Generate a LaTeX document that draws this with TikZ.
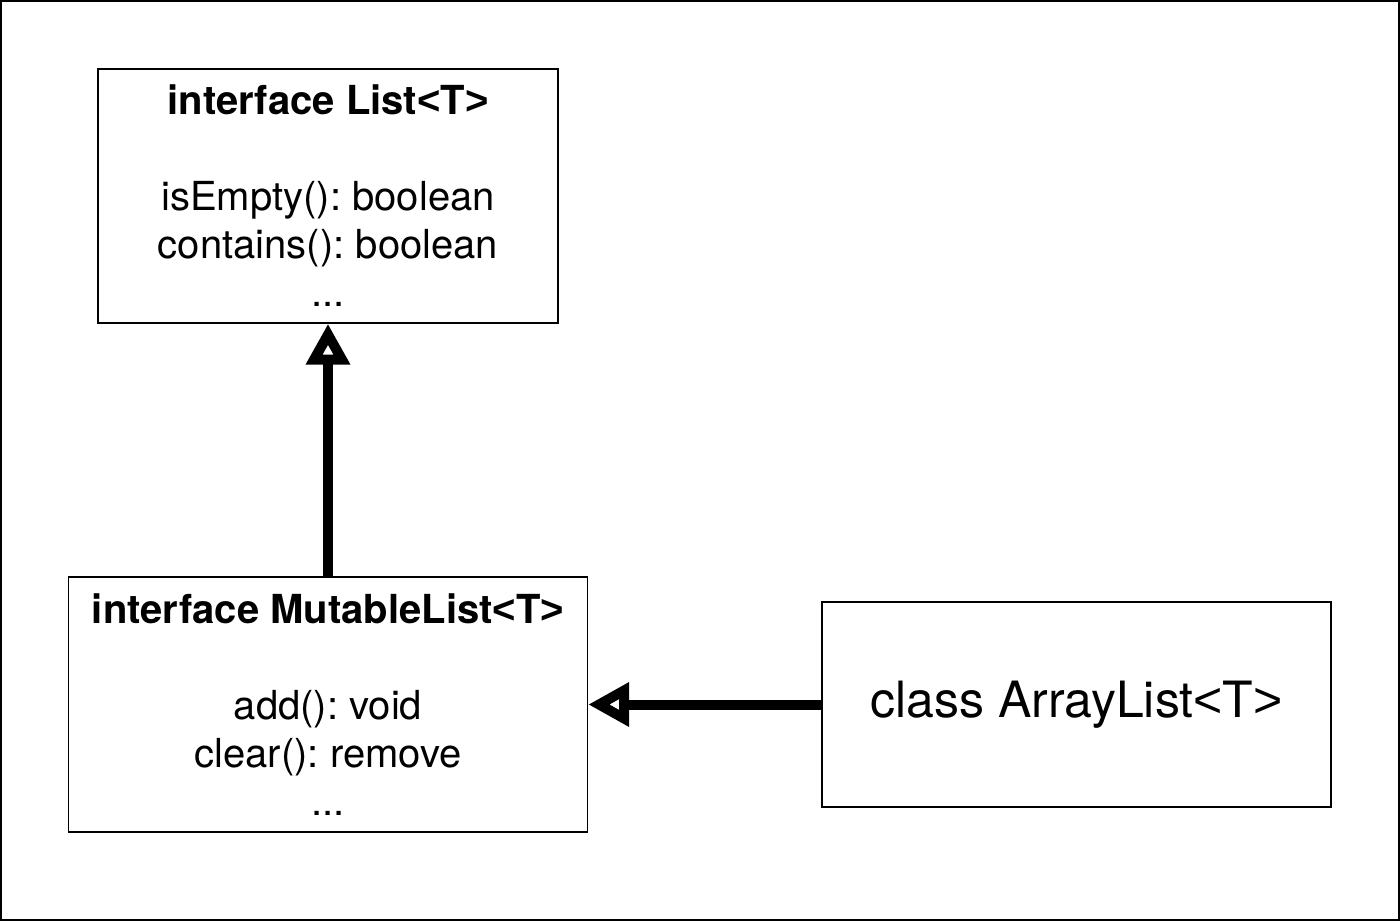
\documentclass[tikz,border=0pt]{standalone}
\usepackage{fontspec}
\setmainfont{TeX Gyre Heros}
\newfontfamily\brkfont{Liberation Sans}
\newcommand{\genT}{{\brkfont<}T{\brkfont>}}
\usetikzlibrary{arrows.meta}
\frenchspacing
\begin{document}
\begin{tikzpicture}[x=1pt,y=-1pt,
  umlbox/.style={draw=black, line width=1.4pt, inner sep=0pt, align=center,
    font=\fontsize{40}{48}\selectfont},
  inherit/.style={line width=10pt, -{Triangle[open, length=41pt, width=42pt]}}]
\useasboundingbox (0,0) rectangle (1400,921);
\draw[line width=2pt] (1,1) rectangle (1399,920);
\node[umlbox, minimum width=460pt, minimum height=254pt] (list) at (328,196)
  {\textbf{interface List\genT}\\ \\ isEmpty(): boolean\\ contains(): boolean\\ ...};
\node[umlbox, minimum width=519pt, minimum height=255pt] (mlist) at (328,704.5)
  {\textbf{interface MutableList\genT}\\ \\ add(): void\\ clear(): remove\\ ...};
\node[umlbox, minimum width=509pt, minimum height=205pt,
  font=\fontsize{50}{60}\selectfont] (alist) at (1076.5,704.5) {class ArrayList\genT};
\draw[inherit] (mlist.north) -- (list.south);
\draw[inherit] (alist.west) -- (mlist.east);
\end{tikzpicture}
\end{document}
